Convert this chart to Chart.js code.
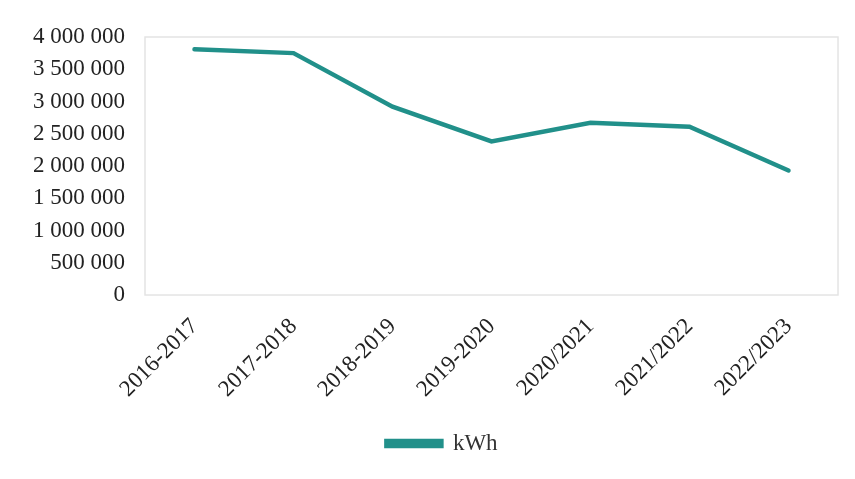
<!DOCTYPE html>
<html>
<head>
<meta charset="utf-8">
<script src="https://cdn.jsdelivr.net/npm/chart.js@4"></script>
<style>
  html, body { margin: 0; padding: 0; background: #fff; }
  #wrap { width: 855px; height: 479px; }
</style>
</head>
<body>
<div id="wrap"><canvas id="myChart" width="855" height="479"></canvas></div>
<script>
// Chart data
const years = ["2016-2017", "2017-2018", "2018-2019", "2019-2020", "2020/2021", "2021/2022", "2022/2023"];
const kwh = [3810000, 3750000, 2920000, 2380000, 2670000, 2610000, 1930000];
const yTicks = [0, 500000, 1000000, 1500000, 2000000, 2500000, 3000000, 3500000, 4000000];

const lineColor = "#21908a";
const serif = "'Liberation Serif', 'Times New Roman', serif";

// space as thousands separator
function spaced(v) {
  return String(v).replace(/\B(?=(\d{3})+(?!\d))/g, " ");
}

// light box around the plot area, legend nudged right like the original
const plotBox = {
  id: "plotBox",
  afterLayout(chart) {
    chart.legend.left += 18;
    chart.legend.right += 18;
  },
  beforeDraw(chart) {
    const a = chart.chartArea;
    const ctx = chart.ctx;
    ctx.save();
    ctx.strokeStyle = "#e4e4e4";
    ctx.lineWidth = 1.5;
    ctx.strokeRect(a.left, a.top, a.right - a.left, a.bottom - a.top);
    ctx.restore();
  }
};

new Chart("myChart", {
  type: "line",
  data: {
    labels: years,
    datasets: [{
      label: "kWh",
      data: kwh,
      borderColor: lineColor,
      backgroundColor: lineColor,
      borderWidth: 4.5,
      borderCapStyle: "round",
      pointRadius: 0,
      tension: 0
    }]
  },
  options: {
    responsive: false,
    animation: false,
    layout: { padding: { top: 37, left: 10, right: 17, bottom: 14 } },
    plugins: {
      legend: {
        position: "bottom",
        labels: {
          boxWidth: 55,
          boxHeight: 5,
          color: "#333",
          padding: 10,
          font: { family: serif, size: 23 }
        }
      },
      tooltip: { enabled: false }
    },
    scales: {
      x: {
        offset: true,
        grid: { display: false },
        border: { display: false },
        ticks: {
          color: "#222",
          maxRotation: 45,
          minRotation: 45,
          padding: 10,
          font: { family: serif, size: 23 }
        },
        afterFit(scale) { scale.height = 127; }
      },
      y: {
        min: 0,
        max: 4000000,
        grid: { display: false },
        border: { display: false },
        afterBuildTicks(scale) { scale.ticks = yTicks.map(v => ({ value: v })); },
        ticks: {
          color: "#222",
          padding: 12,
          font: { family: serif, size: 23 },
          callback: v => spaced(v)
        },
        afterFit(scale) { scale.width = 135; }
      }
    }
  },
  plugins: [plotBox]
});
</script>
</body>
</html>
